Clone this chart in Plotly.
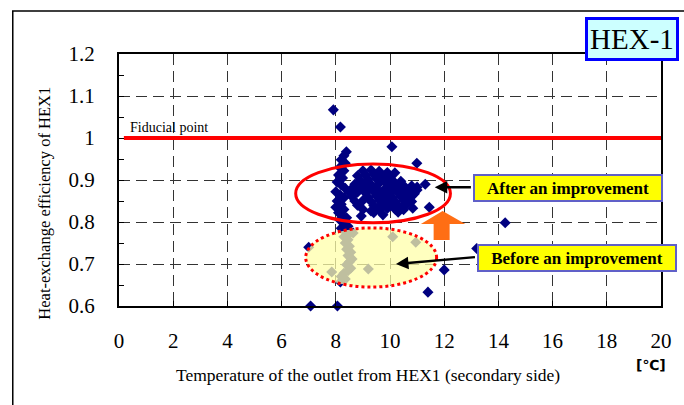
import plotly.graph_objects as go

# ---------------- data ----------------
temp_outlier = [7.91, 8.17, 10.07, 8.39, 10.99, 10.18, 11.3, 11.0, 11.45, 14.25, 7.0, 13.2, 12.0, 11.4, 7.07, 8.06,
                8.64, 10.1, 10.95, 9.2, 7.85, 8.94, 9.74, 10.84, 9.3, 10.5]
eff_outlier = [1.067, 1.026, 0.979, 0.967, 0.940, 0.917, 0.890, 0.883, 0.835, 0.798, 0.740, 0.737, 0.686, 0.633, 0.600, 0.600,
               0.774, 0.765, 0.752, 0.688, 0.681, 0.814, 0.817, 0.833, 0.826, 0.840]

temp_column = [8.3, 8.2, 8.35, 8.15, 8.3, 8.1, 8.25, 8.05, 8.2, 8.35, 8.0, 8.15, 8.3, 8.05, 8.2, 8.0, 8.3, 8.1, 8.25, 8.4,
               8.15, 8.3, 8.45, 8.2, 8.35, 8.5, 8.3, 8.45, 8.35, 8.5, 8.4, 8.55, 8.45, 8.6, 8.5, 8.4, 8.55, 8.45, 8.3, 8.2,
               8.35, 8.17]
eff_column = [0.958, 0.948, 0.940, 0.930, 0.922, 0.912, 0.905, 0.895, 0.888, 0.880, 0.872, 0.865, 0.858, 0.850, 0.842, 0.835,
              0.830, 0.822, 0.815, 0.810, 0.805, 0.798, 0.790, 0.785, 0.778, 0.772, 0.765, 0.758, 0.750, 0.742, 0.735, 0.728,
              0.720, 0.712, 0.705, 0.698, 0.690, 0.684, 0.678, 0.670, 0.664, 0.657]

temp_cluster = [9.0, 9.3, 9.6, 9.9,
                8.8, 9.1, 9.4, 9.7, 10.0,
                8.9, 9.2, 9.5, 9.8, 10.1, 10.4,
                8.7, 9.0, 9.3, 9.6, 9.9, 10.2, 10.5, 10.8,
                8.6, 8.9, 9.2, 9.5, 9.8, 10.1, 10.4, 10.7, 11.0,
                8.5, 8.8, 9.1, 9.4, 9.7, 10.0, 10.3, 10.6, 10.9,
                8.6, 9.2, 9.5, 9.8, 10.1, 10.4, 10.7,
                8.7, 9.0, 9.3, 9.6, 9.9, 10.2, 10.5, 10.8,
                8.8, 9.4, 9.7, 10.0, 10.3, 10.6,
                9.0, 9.6, 9.9, 10.2, 10.5,
                9.4, 10.3]
eff_cluster = [0.922, 0.924, 0.921, 0.918,
               0.910, 0.912, 0.913, 0.911, 0.908,
               0.900, 0.901, 0.903, 0.902, 0.899, 0.897,
               0.890, 0.891, 0.889, 0.892, 0.890, 0.888, 0.887, 0.886,
               0.880, 0.879, 0.881, 0.880, 0.878, 0.880, 0.879, 0.877, 0.876,
               0.870, 0.871, 0.869, 0.872, 0.870, 0.868, 0.870, 0.869, 0.867,
               0.860, 0.859, 0.862, 0.860, 0.858, 0.861, 0.859,
               0.850, 0.851, 0.849, 0.852, 0.850, 0.848, 0.851, 0.849,
               0.840, 0.839, 0.842, 0.840, 0.838, 0.841,
               0.830, 0.829, 0.832, 0.830, 0.829,
               0.822, 0.823]

temp = temp_outlier + temp_column + temp_cluster
eff = eff_outlier + eff_column + eff_cluster

ref_x = [0.18, 20]
ref_y = [1.0, 1.0]

x_ticks = [0, 2, 4, 6, 8, 10, 12, 14, 16, 18, 20]
x_labels = ["0", "2", "4", "6", "8", "10", "12", "14", "16", "18", "20"]
y_ticks = [0.6, 0.7, 0.8, 0.9, 1.0, 1.1, 1.2]
y_labels = ["0.6", "0.7", "0.8", "0.9", "1", "1.1", "1.2"]

SERIF = "Liberation Serif"

fig = go.Figure()
fig.add_trace(go.Scatter(x=ref_x, y=ref_y, mode="lines", line=dict(color="#FF0000", width=4),
                         showlegend=False, hoverinfo="skip"))
fig.add_trace(go.Scatter(x=temp, y=eff, mode="markers", cliponaxis=False,
                         marker=dict(symbol="diamond", size=8.5, color="#000080", line=dict(width=0)),
                         showlegend=False))

fig.update_layout(
    width=684, height=405,
    margin=dict(l=119, r=19, t=54, b=99),
    paper_bgcolor="white", plot_bgcolor="white",
    font=dict(family=SERIF, color="black"),
    xaxis=dict(range=[0, 20], tickvals=x_ticks, ticktext=x_labels, ticks="inside", ticklen=5,
               tickcolor="black", showline=True, linecolor="black", linewidth=2, mirror=True,
               showgrid=True, gridcolor="#333333", griddash="11px,6px", gridwidth=1,
               zeroline=False, tickfont=dict(family=SERIF, size=21), ticklabelstandoff=15),
    yaxis=dict(range=[0.6, 1.2], tickvals=y_ticks, ticktext=y_labels, ticks="inside", ticklen=5,
               tickcolor="black", showline=True, linecolor="black", linewidth=2, mirror=True,
               showgrid=True, gridcolor="#333333", griddash="11px,6px", gridwidth=1,
               zeroline=False, tickfont=dict(family=SERIF, size=21), ticklabelstandoff=18,
               minor=dict(dtick=0.05, ticks="inside", ticklen=5, tickcolor="black", showgrid=False)),
)

shapes = [
    # outer frame
    dict(type="rect", xref="paper", yref="paper", x0=-0.196, x1=1.2, y0=-0.5, y1=1.1706,
         line=dict(color="black", width=1.5), fillcolor="rgba(0,0,0,0)", layer="below"),
    # red ellipse (after)
    dict(type="circle", xref="x", yref="y", x0=6.52, x1=12.23, y0=0.798, y1=0.938,
         line=dict(color="#FF0000", width=3), fillcolor="rgba(0,0,0,0)", layer="above"),
    # yellow dotted ellipse (before)
    dict(type="circle", xref="x", yref="y", x0=6.89, x1=11.72, y0=0.645, y1=0.786,
         line=dict(color="#FF0000", width=3, dash="3px,3px"), fillcolor="rgba(255,255,170,0.75)", layer="above"),
    # orange block arrow
    dict(type="path", xref="x", yref="y",
         path="M 11.61,0.757 L 11.61,0.795 L 11.14,0.795 L 11.94,0.826 L 12.78,0.795 L 12.20,0.795 L 12.20,0.757 Z",
         fillcolor="#FF6E14", line=dict(width=0), layer="above"),
]
fig.update_layout(shapes=shapes)

annotations = [
    dict(text="HEX-1", xref="paper", yref="paper", x=0.947, y=1.0595, xanchor="center", yanchor="middle",
         showarrow=False, font=dict(family=SERIF, size=29, color="black"), bgcolor="#CCFFFF",
         bordercolor="#0000FF", borderwidth=3, borderpad=1, width=86, height=36),
    dict(text="Fiducial point", xref="x", yref="y", x=0.33, y=1.026, xanchor="left", yanchor="middle",
         showarrow=False, font=dict(family=SERIF, size=14, color="black")),
    # arrows
    dict(text="", xref="x", yref="y", x=11.65, y=0.883, ax=13.04, ay=0.883, axref="x", ayref="y",
         showarrow=True, arrowhead=2, arrowsize=1, arrowwidth=2.5, arrowcolor="black", standoff=0),
    dict(text="", xref="x", yref="y", x=10.22, y=0.700, ax=13.19, ay=0.7167, axref="x", ayref="y",
         showarrow=True, arrowhead=2, arrowsize=1, arrowwidth=2.5, arrowcolor="black", standoff=0),
    dict(text="<b>After an improvement</b>", xref="x", yref="y", x=16.56, y=0.881, xanchor="center", yanchor="middle",
         showarrow=False, font=dict(family=SERIF, size=17, color="black"), bgcolor="#FFFF00",
         bordercolor="#6060C8", borderwidth=2, borderpad=1, width=184, height=22),
    dict(text="<b>Before an improvement</b>", xref="x", yref="y", x=16.89, y=0.714, xanchor="center", yanchor="middle",
         showarrow=False, font=dict(family=SERIF, size=17, color="black"), bgcolor="#FFFF00",
         bordercolor="#6060C8", borderwidth=2, borderpad=1, width=194, height=22),
    # axis titles
    dict(text="Heat-exchange efficiency of HEX1", xref="paper", yref="paper", x=-0.137, y=0.409,
         xanchor="center", yanchor="middle", textangle=-90, showarrow=False,
         font=dict(family=SERIF, size=16.5, color="black")),
    dict(text="Temperature of the outlet from HEX1 (secondary side)", xref="paper", yref="paper", x=0.46, y=-0.274,
         xanchor="center", yanchor="middle", showarrow=False, font=dict(family=SERIF, size=17.5, color="black")),
    dict(text="<b>[℃]</b>", xref="paper", yref="paper", x=0.982, y=-0.234, xanchor="center", yanchor="middle",
         showarrow=False, font=dict(family="DejaVu Sans", size=14, color="black")),
]
fig.update_layout(annotations=annotations)

fig.write_html("out.html")
